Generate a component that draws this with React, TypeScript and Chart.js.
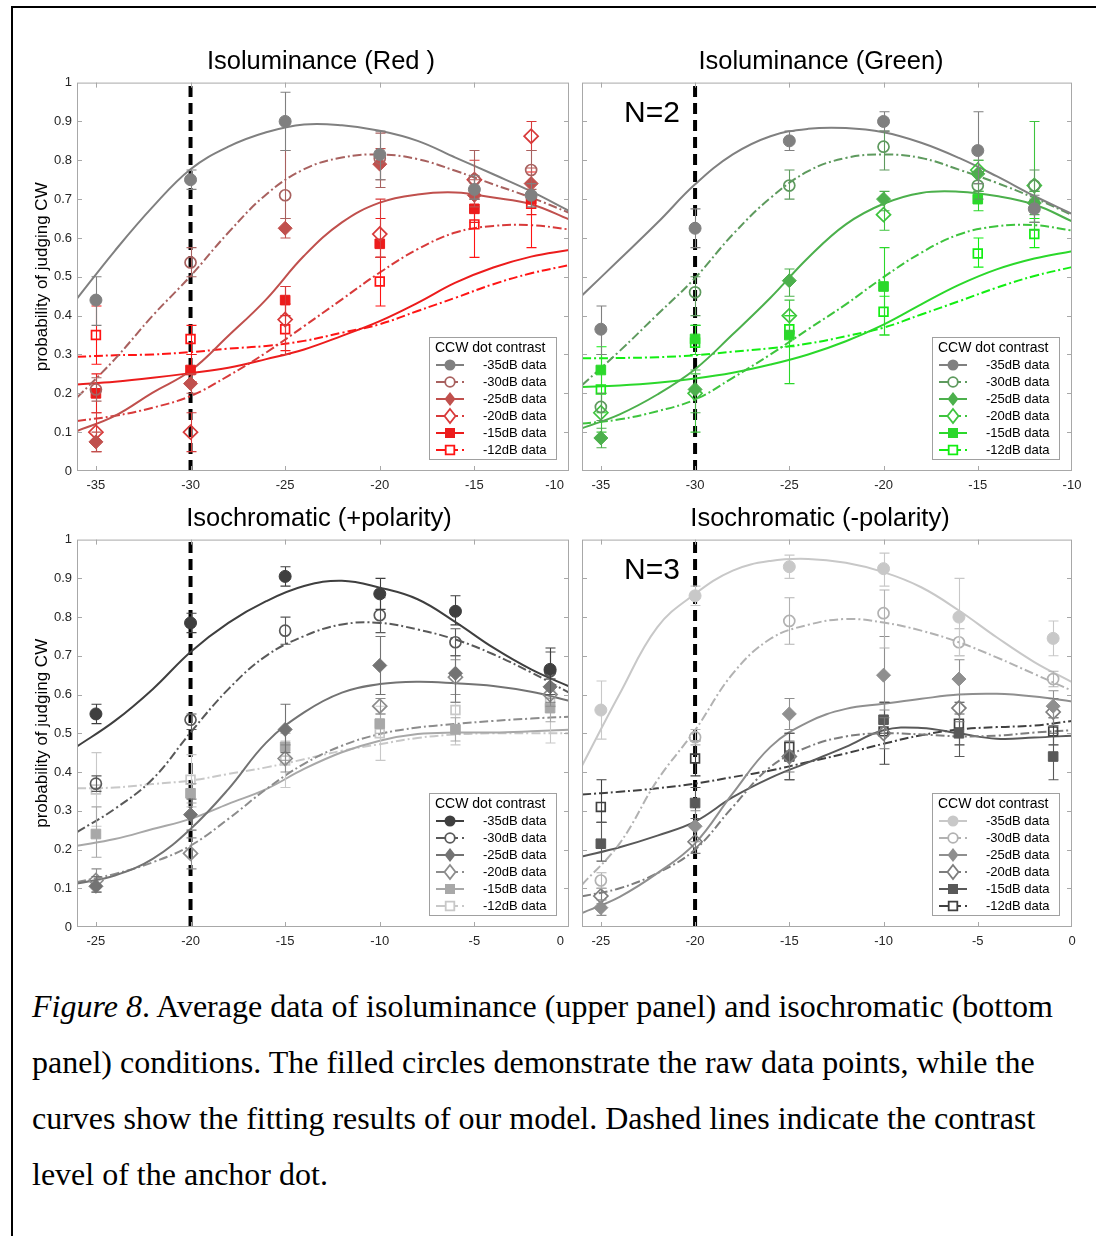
import React, { useEffect, useRef } from 'react';
import { Chart, registerables } from 'chart.js';

Chart.register(...registerables);

const SANS = '"Liberation Sans", Arial, Helvetica, sans-serif';
const SERIF = '"Liberation Serif", "Times New Roman", Times, serif';

// ---------- shared data ----------
const seriesLabels = ['-35dB data', '-30dB data', '-25dB data', '-20dB data', '-15dB data', '-12dB data'];
const seriesDashed = [false, true, false, true, false, true];
const seriesShape = ['circle', 'circle', 'rectRot', 'rectRot', 'rect', 'rect'];
const seriesFilled = [true, false, true, false, true, false];

const yTickValues = [0, 0.1, 0.2, 0.3, 0.4, 0.5, 0.6, 0.7, 0.8, 0.9, 1];
const yTickLabels = ['0', '0.1', '0.2', '0.3', '0.4', '0.5', '0.6', '0.7', '0.8', '0.9', '1'];
const topXTicks = [-35, -30, -25, -20, -15, -10];
const topXTickLabels = ['-35', '-30', '-25', '-20', '-15', '-10'];
const bottomXTicks = [-25, -20, -15, -10, -5, 0];
const bottomXTickLabels = ['-25', '-20', '-15', '-10', '-5', '0'];

const topDataX = [-35, -30, -25, -20, -15, -12];
const bottomDataX = [-25, -20, -15, -10, -6, -1];
const topFitX = [-36, -34, -32, -30, -28, -26, -24, -22, -20, -18, -16, -14, -12, -10];
const bottomFitX = [-26, -24, -22, -20, -18, -16, -14, -12, -10, -8, -6, -4, -2, 0];

// ---------- Isoluminance (Red) ----------
const redColors = ['#808080', '#a8615f', '#c0504d', '#d83a3a', '#ec1c1c', '#ff1414'];
const redMean = [
  [0.44, 0.75, 0.9, 0.815, 0.725, 0.71],
  [0.21, 0.537, 0.71, 0.805, 0.75, 0.775],
  [0.075, 0.225, 0.625, 0.79, 0.71, 0.74],
  [0.1, 0.1, 0.39, 0.61, 0.75, 0.862],
  [0.2, 0.26, 0.44, 0.585, 0.675, 0.7],
  [0.35, 0.34, 0.365, 0.488, 0.635, 0.688],
];
const redLow = [
  [0.375, 0.725, 0.825, 0.75, 0.7, 0.68],
  [0.18, 0.5, 0.65, 0.73, 0.7, 0.725],
  [0.05, 0.2, 0.6, 0.75, 0.68, 0.7],
  [0.05, 0.05, 0.3, 0.55, 0.7, 0.825],
  [0.15, 0.23, 0.4, 0.55, 0.64, 0.66],
  [0.275, 0.3, 0.31, 0.425, 0.55, 0.575],
];
const redHigh = [
  [0.5, 0.775, 0.975, 0.875, 0.76, 0.74],
  [0.24, 0.575, 0.825, 0.87, 0.825, 0.825],
  [0.1, 0.25, 0.65, 0.83, 0.75, 0.78],
  [0.15, 0.15, 0.475, 0.7, 0.8, 0.9],
  [0.25, 0.3, 0.475, 0.65, 0.72, 0.74],
  [0.425, 0.375, 0.43, 0.55, 0.72, 0.77],
];
const redFits = [
  [0.444, 0.567, 0.68, 0.777, 0.835, 0.872, 0.892, 0.89, 0.876, 0.85, 0.807, 0.764, 0.72, 0.67],
  [0.189, 0.288, 0.4, 0.502, 0.614, 0.712, 0.777, 0.807, 0.815, 0.803, 0.773, 0.738, 0.704, 0.665],
  [0.103, 0.142, 0.202, 0.258, 0.348, 0.442, 0.554, 0.64, 0.691, 0.712, 0.717, 0.704, 0.687, 0.648],
  [0.129, 0.142, 0.163, 0.193, 0.245, 0.305, 0.373, 0.442, 0.511, 0.571, 0.614, 0.631, 0.633, 0.622],
  [0.223, 0.23, 0.24, 0.252, 0.266, 0.288, 0.313, 0.348, 0.386, 0.433, 0.485, 0.524, 0.552, 0.569],
  [0.294, 0.298, 0.3, 0.306, 0.315, 0.322, 0.335, 0.356, 0.378, 0.412, 0.446, 0.481, 0.509, 0.53],
];

// ---------- Isoluminance (Green) ----------
const greenColors = ['#808080', '#5e9a5e', '#4cb04c', '#3ec43e', '#2bd82b', '#12ee12'];
const greenMean = [
  [0.365, 0.625, 0.85, 0.9, 0.825, 0.675],
  [0.165, 0.46, 0.735, 0.835, 0.735, 0.735],
  [0.085, 0.21, 0.49, 0.7, 0.765, 0.69],
  [0.15, 0.2, 0.4, 0.66, 0.775, 0.735],
  [0.26, 0.34, 0.35, 0.475, 0.7, 0.685],
  [0.21, 0.33, 0.365, 0.41, 0.56, 0.61],
];
const greenLow = [
  [0.3, 0.575, 0.825, 0.875, 0.74, 0.64],
  [0.13, 0.4, 0.7, 0.775, 0.7, 0.7],
  [0.06, 0.15, 0.45, 0.67, 0.72, 0.66],
  [0.1, 0.1, 0.36, 0.62, 0.74, 0.62],
  [0.22, 0.3, 0.225, 0.35, 0.67, 0.64],
  [0.15, 0.3, 0.32, 0.35, 0.525, 0.575],
];
const greenHigh = [
  [0.425, 0.675, 0.875, 0.925, 0.925, 0.71],
  [0.2, 0.5, 0.775, 0.875, 0.77, 0.775],
  [0.11, 0.26, 0.52, 0.72, 0.8, 0.72],
  [0.2, 0.25, 0.44, 0.7, 0.8, 0.9],
  [0.3, 0.375, 0.4, 0.575, 0.72, 0.72],
  [0.32, 0.375, 0.4, 0.45, 0.6, 0.65],
];
const greenFits = [
  [0.452, 0.545, 0.639, 0.738, 0.815, 0.862, 0.881, 0.883, 0.872, 0.845, 0.806, 0.759, 0.708, 0.662],
  [0.221, 0.309, 0.403, 0.497, 0.609, 0.703, 0.772, 0.806, 0.815, 0.806, 0.776, 0.742, 0.703, 0.659],
  [0.11, 0.146, 0.197, 0.262, 0.352, 0.446, 0.549, 0.635, 0.688, 0.716, 0.719, 0.708, 0.686, 0.643],
  [0.122, 0.133, 0.154, 0.184, 0.24, 0.3, 0.365, 0.429, 0.499, 0.562, 0.609, 0.63, 0.633, 0.619],
  [0.216, 0.22, 0.227, 0.238, 0.253, 0.274, 0.3, 0.334, 0.377, 0.429, 0.479, 0.519, 0.547, 0.566],
  [0.29, 0.291, 0.293, 0.298, 0.307, 0.316, 0.328, 0.347, 0.369, 0.403, 0.437, 0.472, 0.502, 0.525],
];

// ---------- Isochromatic (+polarity) ----------
const plusColors = ['#3f3f3f', '#595959', '#737373', '#8c8c8c', '#a8a8a8', '#c8c8c8'];
const plusMean = [
  [0.55, 0.785, 0.905, 0.86, 0.815, 0.665],
  [0.37, 0.535, 0.765, 0.805, 0.735, 0.66],
  [0.105, 0.29, 0.51, 0.675, 0.655, 0.62],
  [0.12, 0.19, 0.435, 0.57, 0.645, 0.6],
  [0.24, 0.345, 0.465, 0.525, 0.51, 0.565],
  [0.355, 0.38, 0.43, 0.5, 0.56, 0.58],
];
const plusLow = [
  [0.525, 0.76, 0.88, 0.82, 0.78, 0.64],
  [0.35, 0.51, 0.73, 0.76, 0.7, 0.6],
  [0.09, 0.25, 0.45, 0.6, 0.58, 0.58],
  [0.09, 0.15, 0.4, 0.55, 0.6, 0.57],
  [0.18, 0.32, 0.43, 0.5, 0.48, 0.53],
  [0.26, 0.31, 0.36, 0.43, 0.47, 0.475],
];
const plusHigh = [
  [0.575, 0.81, 0.93, 0.9, 0.855, 0.72],
  [0.39, 0.55, 0.8, 0.85, 0.77, 0.71],
  [0.13, 0.33, 0.575, 0.75, 0.7, 0.66],
  [0.15, 0.23, 0.47, 0.59, 0.69, 0.64],
  [0.31, 0.37, 0.5, 0.55, 0.54, 0.59],
  [0.45, 0.445, 0.48, 0.57, 0.58, 0.61],
];
const plusFits = [
  [0.466, 0.532, 0.614, 0.71, 0.785, 0.841, 0.88, 0.894, 0.876, 0.846, 0.787, 0.721, 0.665, 0.621],
  [0.245, 0.305, 0.382, 0.502, 0.614, 0.7, 0.751, 0.781, 0.785, 0.768, 0.742, 0.704, 0.657, 0.605],
  [0.112, 0.133, 0.176, 0.253, 0.356, 0.476, 0.554, 0.605, 0.627, 0.633, 0.629, 0.622, 0.607, 0.584],
  [0.116, 0.137, 0.167, 0.21, 0.279, 0.356, 0.421, 0.468, 0.498, 0.515, 0.524, 0.532, 0.538, 0.543],
  [0.21, 0.227, 0.253, 0.279, 0.318, 0.356, 0.408, 0.451, 0.481, 0.498, 0.502, 0.502, 0.505, 0.509],
  [0.358, 0.36, 0.369, 0.378, 0.395, 0.412, 0.433, 0.455, 0.472, 0.488, 0.497, 0.5, 0.5, 0.5],
];

// ---------- Isochromatic (-polarity) ----------
const minusColors = ['#c8c8c8', '#b2b2b2', '#8f8f8f', '#7d7d7d', '#595959', '#404040'];
const minusMean = [
  [0.56, 0.855, 0.93, 0.925, 0.8, 0.745],
  [0.12, 0.49, 0.79, 0.81, 0.735, 0.64],
  [0.05, 0.26, 0.55, 0.65, 0.64, 0.57],
  [0.08, 0.22, 0.44, 0.5, 0.565, 0.555],
  [0.215, 0.32, 0.44, 0.535, 0.5, 0.44],
  [0.31, 0.435, 0.465, 0.505, 0.525, 0.505],
];
const minusLow = [
  [0.485, 0.83, 0.9, 0.88, 0.7, 0.7],
  [0.1, 0.47, 0.73, 0.72, 0.7, 0.62],
  [0.03, 0.22, 0.51, 0.56, 0.6, 0.54],
  [0.06, 0.19, 0.4, 0.46, 0.53, 0.52],
  [0.17, 0.28, 0.38, 0.5, 0.44, 0.38],
  [0.27, 0.39, 0.38, 0.42, 0.47, 0.47],
];
const minusHigh = [
  [0.635, 0.88, 0.96, 0.965, 0.9, 0.79],
  [0.14, 0.51, 0.85, 0.87, 0.77, 0.66],
  [0.07, 0.3, 0.59, 0.75, 0.69, 0.61],
  [0.1, 0.26, 0.48, 0.54, 0.6, 0.59],
  [0.27, 0.36, 0.5, 0.58, 0.55, 0.5],
  [0.38, 0.48, 0.5, 0.58, 0.58, 0.54],
];
const minusFits = [
  [0.416, 0.602, 0.774, 0.86, 0.92, 0.945, 0.95, 0.94, 0.916, 0.877, 0.817, 0.748, 0.684, 0.632],
  [0.109, 0.216, 0.379, 0.508, 0.654, 0.744, 0.78, 0.795, 0.786, 0.765, 0.735, 0.696, 0.653, 0.61],
  [0.036, 0.078, 0.139, 0.216, 0.345, 0.465, 0.529, 0.563, 0.576, 0.589, 0.6, 0.602, 0.595, 0.582],
  [0.079, 0.1, 0.139, 0.2, 0.31, 0.413, 0.465, 0.492, 0.5, 0.497, 0.492, 0.494, 0.502, 0.508],
  [0.182, 0.206, 0.236, 0.272, 0.335, 0.385, 0.425, 0.465, 0.508, 0.514, 0.5, 0.486, 0.489, 0.494],
  [0.342, 0.349, 0.358, 0.37, 0.387, 0.404, 0.426, 0.448, 0.473, 0.495, 0.51, 0.516, 0.52, 0.532],
];

const panelTitles = ['Isoluminance (Red )', 'Isoluminance (Green)', 'Isochromatic (+polarity)', 'Isochromatic (-polarity)'];
const panelNotes = ['', 'N=2', '', 'N=3'];
const anchorValues = [-30, -30, -20, -20];
const yAxisTitle = 'probability of judging CW';
const legendTitle = 'CCW dot contrast';

type PanelCfg = {
  title: string;
  note: string;
  anchor: number;
  colors: string[];
  mean: number[][];
  low: number[][];
  high: number[][];
  fits: number[][];
  dataX: number[];
  fitX: number[];
  xTicks: number[];
  xTickLabels: string[];
  xMin: number;
  xMax: number;
  showY: boolean;
  shiftLast: boolean;
  left: number;
  top: number;
  w: number;
  h: number;
  yw: number;
  padRight: number;
};

const panels: PanelCfg[] = [
  { title: panelTitles[0], note: panelNotes[0], anchor: anchorValues[0], colors: redColors, mean: redMean, low: redLow, high: redHigh, fits: redFits, dataX: topDataX, fitX: topFitX, xTicks: topXTicks, xTickLabels: topXTickLabels, xMin: -36, xMax: -10, showY: true, shiftLast: true, left: 20, top: 38, w: 602, h: 465, yw: 57, padRight: 53 },
  { title: panelTitles[1], note: panelNotes[1], anchor: anchorValues[1], colors: greenColors, mean: greenMean, low: greenLow, high: greenHigh, fits: greenFits, dataX: topDataX, fitX: topFitX, xTicks: topXTicks, xTickLabels: topXTickLabels, xMin: -36, xMax: -10, showY: false, shiftLast: false, left: 560, top: 38, w: 522, h: 465, yw: 22, padRight: 10 },
  { title: panelTitles[2], note: panelNotes[2], anchor: anchorValues[2], colors: plusColors, mean: plusMean, low: plusLow, high: plusHigh, fits: plusFits, dataX: bottomDataX, fitX: bottomFitX, xTicks: bottomXTicks, xTickLabels: bottomXTickLabels, xMin: -26, xMax: 0, showY: true, shiftLast: true, left: 16, top: 495, w: 606, h: 464, yw: 61, padRight: 53 },
  { title: panelTitles[3], note: panelNotes[3], anchor: anchorValues[3], colors: minusColors, mean: minusMean, low: minusLow, high: minusHigh, fits: minusFits, dataX: bottomDataX, fitX: bottomFitX, xTicks: bottomXTicks, xTickLabels: bottomXTickLabels, xMin: -26, xMax: 0, showY: false, shiftLast: false, left: 558, top: 495, w: 524, h: 464, yw: 24, padRight: 10 },
];

const DASHDOT = [9, 3, 2, 3];

function markerRadius(i: number) {
  const shape = seriesShape[i];
  if (shape === 'circle') return seriesFilled[i] ? 6 : 5.5;
  if (shape === 'rectRot') return 7;
  return seriesFilled[i] ? 6.8 : 6.2;
}

function drawLegendMarker(ctx: CanvasRenderingContext2D, i: number, color: string, x: number, y: number) {
  const shape = seriesShape[i];
  ctx.beginPath();
  if (shape === 'circle') {
    ctx.arc(x, y, seriesFilled[i] ? 5.5 : 4.8, 0, Math.PI * 2);
  } else if (shape === 'rectRot') {
    ctx.moveTo(x, y - 7);
    ctx.lineTo(x + 5.5, y);
    ctx.lineTo(x, y + 7);
    ctx.lineTo(x - 5.5, y);
    ctx.closePath();
  } else {
    const s = seriesFilled[i] ? 5 : 4.3;
    ctx.rect(x - s, y - s, 2 * s, 2 * s);
  }
  if (seriesFilled[i]) {
    ctx.fillStyle = color;
    ctx.fill();
  } else {
    ctx.fillStyle = '#fff';
    ctx.fill();
    ctx.lineWidth = 1.8;
    ctx.strokeStyle = color;
    ctx.stroke();
  }
}

const errorBarPlugin = {
  id: 'errorBars',
  beforeDatasetDraw(chart: any, args: any) {
    const ds = chart.data.datasets[args.index];
    if (!ds.errLow) return;
    const { ctx } = chart;
    const xs = chart.scales.x;
    const ys = chart.scales.y;
    ctx.save();
    ctx.strokeStyle = ds.errColor;
    ctx.lineWidth = 1.1;
    ds.data.forEach((p: any, j: number) => {
      const x = Math.round(xs.getPixelForValue(p.x)) + 0.5;
      const y1 = ys.getPixelForValue(ds.errLow[j]);
      const y2 = ys.getPixelForValue(ds.errHigh[j]);
      ctx.beginPath();
      ctx.moveTo(x, y1);
      ctx.lineTo(x, y2);
      ctx.moveTo(x - 5, y1);
      ctx.lineTo(x + 5, y1);
      ctx.moveTo(x - 5, y2);
      ctx.lineTo(x + 5, y2);
      ctx.stroke();
    });
    ctx.restore();
  },
};

const framePlugin = {
  id: 'frameTicks',
  afterDatasetsDraw(chart: any) {
    const { ctx, chartArea: a } = chart;
    const xs = chart.scales.x;
    const ys = chart.scales.y;
    ctx.save();
    ctx.strokeStyle = '#a8a8a8';
    ctx.lineWidth = 1;
    ctx.strokeRect(a.left + 0.5, a.top + 0.5, a.right - a.left - 1, a.bottom - a.top - 1);
    ctx.beginPath();
    for (const t of xs.ticks) {
      const x = Math.round(xs.getPixelForValue(t.value)) + 0.5;
      if (x < a.left + 2 || x > a.right - 2) continue;
      ctx.moveTo(x, a.bottom);
      ctx.lineTo(x, a.bottom - 5);
      ctx.moveTo(x, a.top);
      ctx.lineTo(x, a.top + 5);
    }
    for (const t of ys.ticks) {
      const y = Math.round(ys.getPixelForValue(t.value)) + 0.5;
      if (y < a.top + 2 || y > a.bottom - 2) continue;
      ctx.moveTo(a.left, y);
      ctx.lineTo(a.left + 5, y);
      ctx.moveTo(a.right, y);
      ctx.lineTo(a.right - 5, y);
    }
    ctx.stroke();
    ctx.restore();
  },
};

function makeDecorPlugin(cfg: PanelCfg) {
  return {
    id: 'decor',
    afterDraw(chart: any) {
      const { ctx, chartArea: a } = chart;
      ctx.save();
      // last x tick label, pulled inside the panel edge
      if (cfg.shiftLast) {
        ctx.font = `13px ${SANS}`;
        ctx.fillStyle = '#262626';
        ctx.textAlign = 'right';
        ctx.textBaseline = 'middle';
        ctx.fillText(cfg.xTickLabels[cfg.xTickLabels.length - 1], a.right - 5, a.bottom + 14.5);
      }
      // legend box
      const w = 127;
      const h = 122;
      const x0 = Math.round(a.right - 13 - w);
      const y0 = Math.round(a.bottom - 12 - h);
      ctx.fillStyle = '#ffffff';
      ctx.fillRect(x0, y0, w, h);
      ctx.strokeStyle = '#a0a0a0';
      ctx.lineWidth = 1;
      ctx.strokeRect(x0 + 0.5, y0 + 0.5, w, h);
      ctx.fillStyle = '#000';
      ctx.textAlign = 'left';
      ctx.textBaseline = 'middle';
      ctx.font = `14px ${SANS}`;
      ctx.fillText(legendTitle, x0 + 6, y0 + 11);
      ctx.font = `13px ${SANS}`;
      for (let i = 0; i < seriesLabels.length; i++) {
        const yy = y0 + 28 + 17 * i;
        const color = cfg.colors[i];
        ctx.save();
        ctx.strokeStyle = color;
        ctx.lineWidth = 2;
        ctx.setLineDash(seriesDashed[i] ? [9, 4] : []);
        ctx.beginPath();
        ctx.moveTo(x0 + 7, yy);
        ctx.lineTo(x0 + 35, yy);
        ctx.stroke();
        ctx.setLineDash([]);
        drawLegendMarker(ctx, i, color, x0 + 21, yy);
        ctx.restore();
        ctx.fillStyle = '#000';
        ctx.fillText(seriesLabels[i], x0 + 54, yy + 0.5);
      }
      // N=.. note
      if (cfg.note) {
        ctx.font = `30px ${SANS}`;
        ctx.fillStyle = '#000';
        ctx.textBaseline = 'middle';
        ctx.fillText(cfg.note, a.left + 42, a.top + 31);
      }
      ctx.restore();
    },
  };
}

function buildConfig(cfg: PanelCfg): any {
  const datasets: any[] = [];
  // anchor dashed line
  datasets.push({
    data: [
      { x: cfg.anchor, y: 0 },
      { x: cfg.anchor, y: 1 },
    ],
    borderColor: '#000000',
    borderWidth: 4,
    borderDash: [11, 6],
    borderCapStyle: 'butt',
    pointRadius: 0,
    fill: false,
    order: 3,
  });
  // fitted curves
  cfg.fits.forEach((fit, i) => {
    datasets.push({
      data: cfg.fitX.map((x, j) => ({ x, y: fit[j] })),
      borderColor: cfg.colors[i],
      borderWidth: 2,
      borderDash: seriesDashed[i] ? DASHDOT : [],
      pointRadius: 0,
      tension: 0.4,
      fill: false,
      order: 2,
    });
  });
  // data points with error bars
  cfg.mean.forEach((vals, i) => {
    const color = cfg.colors[i];
    datasets.push({
      data: cfg.dataX.map((x, j) => ({ x, y: vals[j] })),
      showLine: false,
      pointStyle: seriesShape[i],
      pointRadius: markerRadius(i),
      pointHoverRadius: markerRadius(i),
      pointBackgroundColor: seriesFilled[i] ? color : 'rgba(255,255,255,0)',
      pointBorderColor: color,
      pointBorderWidth: seriesFilled[i] ? 1 : 1.7,
      errLow: cfg.low[i],
      errHigh: cfg.high[i],
      errColor: color,
      order: 1,
    });
  });

  const lastIdx = cfg.xTickLabels.length - 1;

  return {
    type: 'line',
    data: { datasets },
    options: {
      animation: false,
      responsive: false,
      maintainAspectRatio: false,
      events: [],
      layout: { padding: 0 },
      plugins: {
        legend: { display: false },
        tooltip: { enabled: false },
        title: {
          display: true,
          text: cfg.title,
          color: '#000',
          font: { family: SANS, size: 25.5, weight: 'normal', lineHeight: 1.2 },
          padding: { top: 9, bottom: 5 },
        },
      },
      scales: {
        x: {
          type: 'linear',
          min: cfg.xMin,
          max: cfg.xMax,
          afterBuildTicks: (s: any) => {
            s.ticks = cfg.xTicks.map((v) => ({ value: v }));
          },
          afterFit: (s: any) => {
            s.height = 32;
            s.paddingLeft = 0;
            s.paddingRight = 0;
          },
          grid: { display: false, drawTicks: false },
          border: { display: false },
          ticks: {
            autoSkip: false,
            maxRotation: 0,
            padding: 7,
            color: '#262626',
            font: { family: SANS, size: 13 },
            callback: (_v: any, idx: number) => (cfg.shiftLast && idx === lastIdx ? '' : cfg.xTickLabels[idx]),
          },
        },
        y: {
          type: 'linear',
          min: 0,
          max: 1,
          afterBuildTicks: (s: any) => {
            s.ticks = yTickValues.map((v) => ({ value: v }));
          },
          afterFit: (s: any) => {
            s.width = cfg.yw;
            s.paddingTop = 0;
            s.paddingBottom = 0;
          },
          grid: { display: false, drawTicks: false },
          border: { display: false },
          ticks: {
            display: cfg.showY,
            autoSkip: false,
            padding: 5,
            color: '#262626',
            font: { family: SANS, size: 13 },
            callback: (_v: any, idx: number) => yTickLabels[idx],
          },
          title: {
            display: cfg.showY,
            text: yAxisTitle,
            color: '#000',
            font: { family: SANS, size: 17, lineHeight: 1.2 },
            padding: { top: cfg.showY ? 12 + (cfg.yw - 57) : 0, bottom: 0 },
          },
        },
        yRight: {
          type: 'linear',
          position: 'right',
          min: 0,
          max: 1,
          display: true,
          afterFit: (s: any) => {
            s.width = cfg.padRight;
            s.paddingTop = 0;
            s.paddingBottom = 0;
          },
          grid: { display: false, drawTicks: false },
          border: { display: false },
          ticks: { display: false },
        },
      },
    },
    plugins: [errorBarPlugin, framePlugin, makeDecorPlugin(cfg)],
  };
}

function Panel({ cfg }: { cfg: PanelCfg }) {
  const ref = useRef<HTMLCanvasElement | null>(null);
  useEffect(() => {
    if (!ref.current) return;
    const chart = new Chart(ref.current, buildConfig(cfg));
    return () => chart.destroy();
  }, [cfg]);
  return (
    <canvas
      ref={ref}
      width={cfg.w}
      height={cfg.h}
      style={{ position: 'absolute', left: cfg.left, top: cfg.top, width: cfg.w, height: cfg.h }}
    />
  );
}

const captionLines = [
  ['Figure 8', '. Average data of isoluminance (upper panel) and isochromatic (bottom'],
  ['', 'panel) conditions. The filled circles demonstrate the raw data points, while the'],
  ['', 'curves show the fitting results of our model. Dashed lines indicate the contrast'],
  ['', 'level of the anchor dot.'],
];

export default function App() {
  return (
    <div style={{ position: 'absolute', left: 0, top: 0, width: 1096, height: 1236, overflow: 'hidden', background: '#fff' }}>
      <div
        style={{
          position: 'absolute',
          left: 11,
          top: 6,
          width: 1100,
          height: 1240,
          borderTop: '2px solid #000',
          borderLeft: '2px solid #000',
        }}
      />
      {panels.map((p, i) => (
        <Panel key={i} cfg={p} />
      ))}
      <div
        style={{
          position: 'absolute',
          left: 32,
          top: 978,
          fontFamily: SERIF,
          fontSize: 32,
          lineHeight: '56px',
          color: '#000',
          whiteSpace: 'nowrap',
        }}
      >
        {captionLines.map((ln, i) => (
          <div key={i}>
            {ln[0] ? <i>{ln[0]}</i> : null}
            {ln[1]}
          </div>
        ))}
      </div>
    </div>
  );
}
